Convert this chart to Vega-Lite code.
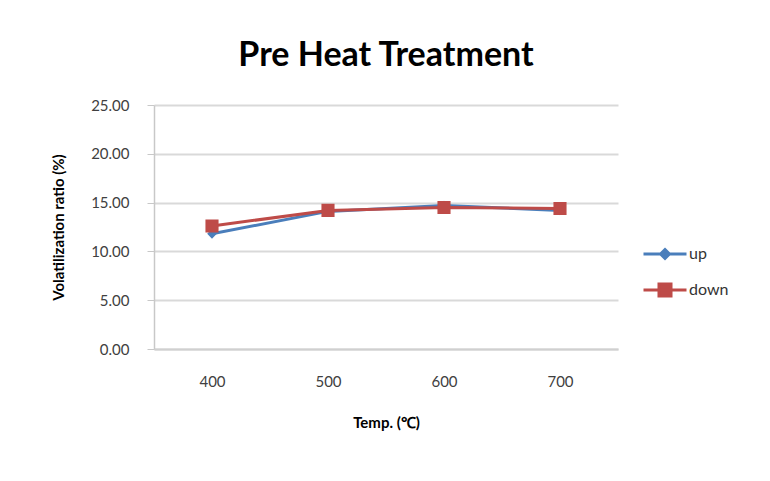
{
  "$schema": "https://vega.github.io/schema/vega-lite/v6.json",
  "autosize": {"type": "none"},
  "width": 464,
  "height": 244,
  "padding": {"left": 154, "top": 105, "right": 152, "bottom": 132},
  "background": "white",
  "config": {
    "font": "Lato",
    "view": {"stroke": null},
    "axis": {"labelFont": "Lato", "titleFont": "Lato", "labelColor": "#404040", "titleColor": "#000000"},
    "legend": {"title": null, "orient": "none", "legendX": 493, "legendY": 141, "symbolSize": 160, "rowPadding": 12, "labelFontSize": 16, "labelFont": "Lato", "labelColor": "#333333", "labelOffset": 16, "symbolOffset": 10, "symbolStrokeWidth": 3}
  },
  "title": {"text": "Pre Heat Treatment", "fontSize": 34, "fontWeight": "bold", "font": "Lato", "offset": 25, "color": "#000000"},
  "data": {
    "values": [
      {"temp": "400", "series": "up", "value": 11.8},
      {"temp": "500", "series": "up", "value": 14.1},
      {"temp": "600", "series": "up", "value": 14.7},
      {"temp": "700", "series": "up", "value": 14.2},
      {"temp": "400", "series": "down", "value": 12.6},
      {"temp": "500", "series": "down", "value": 14.2},
      {"temp": "600", "series": "down", "value": 14.5},
      {"temp": "700", "series": "down", "value": 14.4}
    ]
  },
  "encoding": {
    "x": {
      "field": "temp", "type": "ordinal", "sort": null,
      "scale": {"type": "point", "padding": 0.5},
      "axis": {"title": "Temp. (℃)", "labelAngle": 0, "labelFontSize": 15, "labelPadding": 25, "titleFontSize": 15, "titleFontWeight": "bold", "titlePadding": 26, "ticks": false, "domainColor": "#d0d0d0", "domainWidth": 2, "grid": false}
    },
    "y": {
      "field": "value", "type": "quantitative",
      "scale": {"domain": [0, 25]},
      "axis": {"title": "Volatilization ratio (%)", "values": [0, 5, 10, 15, 20, 25], "format": ".2f", "labelFontSize": 15, "labelPadding": 18, "titleFontSize": 15, "titleFontWeight": "bold", "titlePadding": 24, "gridColor": "#d9d9d9", "gridWidth": 2, "domainColor": "#c8c8c8", "domainWidth": 1.5, "tickColor": "#c8c8c8", "tickSize": 7}
    },
    "color": {"field": "series", "type": "nominal",
      "scale": {"domain": ["up", "down"], "range": ["#4a7ebb", "#be4b48"]}}
  },
  "layer": [
    {
      "mark": {"type": "line", "strokeWidth": 3}
    },
    {
      "mark": {"type": "point", "filled": true, "opacity": 1, "size": 190},
      "encoding": {
        "shape": {
          "field": "series", "type": "nominal",
          "scale": {"domain": ["up", "down"], "range": ["M-3.4,0H3.4M0,-0.7L0.7,0L0,0.7L-0.7,0Z", "M-3.4,0H3.4M-0.95,-0.95H0.95V0.95H-0.95Z"]}
        }
      }
    }
  ]
}
